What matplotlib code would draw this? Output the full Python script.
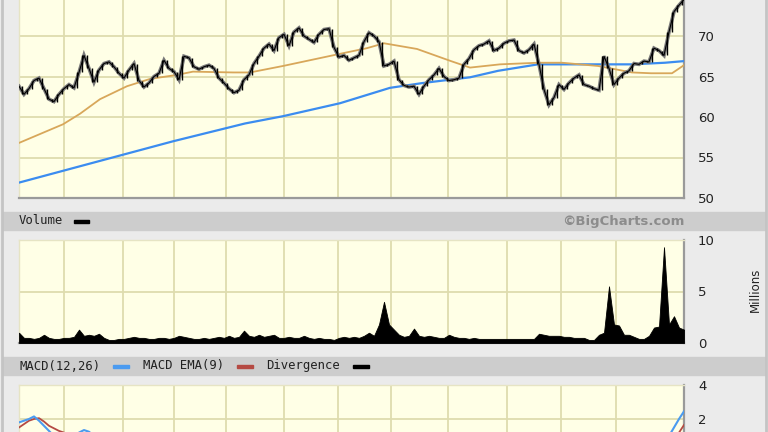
import matplotlib
matplotlib.use("Agg")
import matplotlib.pyplot as plt
from matplotlib.patches import Rectangle
from matplotlib.lines import Line2D
import numpy as np

# ---------------- data ----------------
close = [63.8, 62.8, 63.5, 64.5, 64.8, 63.5, 62.2, 61.9, 62.8, 63.5,
         64.0, 63.6, 65.5, 67.6, 66.0, 64.3, 65.8, 66.6, 66.8, 66.2,
         65.4, 64.8, 65.8, 66.6, 64.5, 63.7, 64.2, 65.0, 65.4, 67.0,
         66.0, 65.6, 64.6, 67.5, 67.3, 66.2, 65.9, 66.2, 66.4, 66.0,
         64.8, 64.2, 63.5, 63.0, 63.3, 64.6, 65.2, 66.6, 67.5, 68.5,
         69.0, 68.2, 69.8, 70.2, 68.8, 70.5, 71.0, 70.0, 69.6, 69.2,
         70.2, 70.8, 70.9, 68.6, 67.4, 67.6, 67.0, 67.3, 67.6, 69.3,
         70.4, 70.0, 69.3, 66.3, 66.5, 66.9, 64.6, 63.9, 63.7, 63.8,
         62.8, 63.8, 64.6, 65.2, 66.0, 65.0, 64.5, 64.6, 64.8, 66.5,
         67.2, 68.3, 68.8, 69.0, 69.4, 68.2, 68.5, 69.1, 69.4, 69.5,
         68.2, 67.9, 68.3, 69.0, 66.5, 63.4, 61.5, 62.4, 64.0, 63.4,
         64.2, 64.8, 65.2, 64.0, 63.8, 63.5, 63.3, 67.5, 66.0, 64.0,
         64.8, 65.4, 65.7, 66.6, 66.5, 66.9, 66.8, 68.5, 68.2, 67.6,
         70.5, 73.0, 73.8, 74.5]

volume = [1.0, 0.5, 0.5, 0.4, 0.5, 0.8, 0.5, 0.4, 0.4, 0.5,
          0.5, 0.6, 1.3, 0.7, 0.8, 0.7, 0.9, 0.5, 0.3, 0.3,
          0.4, 0.4, 0.5, 0.6, 0.5, 0.5, 0.4, 0.4, 0.5, 0.5,
          0.4, 0.5, 0.7, 0.6, 0.5, 0.4, 0.4, 0.5, 0.4, 0.5,
          0.6, 0.5, 0.7, 0.5, 0.6, 1.2, 0.7, 0.6, 0.8, 0.6,
          0.7, 0.8, 0.5, 0.5, 0.6, 0.5, 0.5, 0.7, 0.5, 0.4,
          0.5, 0.4, 0.4, 0.3, 0.5, 0.6, 0.5, 0.6, 0.5, 0.7,
          1.0, 0.7, 1.8, 4.0, 1.8, 1.3, 0.8, 0.6, 0.7, 1.4,
          0.7, 0.6, 0.7, 0.6, 0.5, 0.5, 0.8, 0.6, 0.5, 0.5,
          0.4, 0.5, 0.4, 0.4, 0.4, 0.4, 0.4, 0.4, 0.4, 0.4,
          0.4, 0.4, 0.4, 0.4, 0.9, 0.8, 0.7, 0.7, 0.7, 0.6,
          0.6, 0.5, 0.5, 0.5, 0.3, 0.3, 0.8, 1.0, 5.5, 1.8,
          1.7, 0.8, 0.8, 0.6, 0.4, 0.4, 0.7, 1.5, 1.6, 9.3,
          1.8, 2.6, 1.5, 1.3]

ma50_idx = [0, 8.8, 12.2, 16.2, 21.6, 26.2, 31.6, 34.8, 42.8, 46.2, 52.8,
            64.2, 69.6, 73.0, 79.6, 86.4, 90.2, 96.2, 103.8, 108.6, 115.8,
            119.2, 122.6, 126.4, 130.6, 133.0]
ma50_val = [56.8, 59.1, 60.4, 62.2, 63.8, 64.7, 65.2, 65.6, 65.5, 65.5, 66.3,
            67.8, 68.5, 69.1, 68.4, 66.9, 66.1, 66.5, 66.7, 66.7, 66.3,
            65.9, 65.5, 65.4, 65.4, 66.4]

ma200_idx = [0, 30.8, 45.2, 52.8, 64.2, 74.2, 80.8, 90.2, 95.8, 103.8,
             115.8, 122.6, 129.2, 133.0]
ma200_val = [51.9, 57.0, 59.2, 60.1, 61.7, 63.6, 64.2, 64.9, 65.7, 66.5,
             66.5, 66.5, 66.7, 66.9]

macd_idx = [0, 1, 2, 3, 4, 5, 6, 7, 8, 11, 12, 13, 14, 15,
            129, 130, 131, 132, 133]
macd_val = [1.8, 1.9, 2.0, 2.15, 1.9, 1.6, 1.3, 1.0, 0.8, 1.0, 1.2, 1.35, 1.25, 1.0,
            0.6, 1.0, 1.5, 2.0, 2.45]
ema_idx = [0, 1, 2, 3, 4, 5, 6, 7, 8, 9, 10, 131, 132, 133]
ema_val = [1.5, 1.7, 1.9, 2.0, 2.05, 1.85, 1.6, 1.45, 1.3, 1.2, 1.0, 0.8, 1.2, 1.65]

month_grid = [9, 20.8, 31, 41.4, 53, 63.8, 74.4, 85.8, 97.6, 108.4, 119.4]
price_ticks = [50, 55, 60, 65, 70]
price_grid = [75]
vol_ticks = [0, 5, 10]
macd_ticks = [2, 4]
macd_grid = [-4, -2, 0]

# ---------------- style ----------------
W, H = 768, 432
BG = "#ebebeb"
PANEL = "#ffffe6"
GRID = "#dedcae"
BAND = "#cdcdcd"

fig = plt.figure(figsize=(W / 100, H / 100), dpi=100, facecolor=BG)

def rect(x0, top, x1, bottom):
    # pixel coordinates (top-origin) -> figure fraction
    return [x0 / W, (H - bottom) / H, (x1 - x0) / W, (bottom - top) / H]

def style_axes(ax, ylim, yticks, extra_grid=()):
    ax.set_facecolor(PANEL)
    ax.set_xlim(0, len(close) - 1)
    ax.set_ylim(*ylim)
    ax.set_xticks(month_grid)
    ax.set_xticklabels([])
    ax.set_yticks(yticks)
    ax.yaxis.tick_right()
    ax.tick_params(axis="both", length=0)
    ax.tick_params(axis="y", pad=10, labelsize=9.5, labelcolor="#222222")
    ax.grid(True, color=GRID, lw=1.3)
    for g in extra_grid:
        ax.axhline(g, color=GRID, lw=1.3, zorder=0.5)
    ax.set_axisbelow(True)
    for s in ["top", "left"]:
        ax.spines[s].set_color("#e6e4c4")
        ax.spines[s].set_linewidth(1)
    for s in ["bottom", "right"]:
        ax.spines[s].set_color("#9a9a9a")
        ax.spines[s].set_linewidth(1.6)

# background bands and frame
fig.patches.append(Rectangle((3 / W, (H - 230) / H), 762 / W, 18 / H,
                             transform=fig.transFigure, color=BAND, zorder=0))
fig.patches.append(Rectangle((3 / W, (H - 375) / H), 762 / W, 18 / H,
                             transform=fig.transFigure, color=BAND, zorder=0))
for xp in (1.5, 765.5):
    fig.lines.append(Line2D([xp / W, xp / W], [0, 1], transform=fig.transFigure,
                            color="#c4c4c4", lw=2))

idx = np.arange(len(close))

# price panel
axp = fig.add_axes(rect(19, -45, 684, 198))
style_axes(axp, (50, 80), price_ticks, price_grid)
axp.plot(ma200_idx, ma200_val, color="#3b8cf0", lw=1.6, zorder=3)
axp.plot(ma50_idx, ma50_val, color="#d8a75a", lw=1.3, zorder=3)
lo = np.minimum(close[:-1], close[1:])
hi = np.maximum(close[:-1], close[1:])
axp.plot(idx, close, color="#7a7a7a", lw=2.6, zorder=4, solid_joinstyle="miter")
axp.vlines(idx[1:] - 0.5, lo, hi, color="black", lw=1.0, zorder=5)
axp.plot(idx, close, color="black", lw=0.8, zorder=5)

# volume panel
axv = fig.add_axes(rect(19, 240, 684, 343))
style_axes(axv, (0, 10), vol_ticks)
axv.fill_between(idx, 0, volume, color="black", lw=0.6, zorder=3)
fig.text(755 / W, (H - 290) / H, "Millions", rotation=90, ha="center", va="center",
         fontsize=8.5, color="#222222", family="DejaVu Sans")

# MACD panel
axm = fig.add_axes(rect(19, 385, 684, 521))
style_axes(axm, (-4, 4), macd_ticks, macd_grid)
axm.plot(ema_idx, ema_val, color="#b54a43", lw=1.3, zorder=3)
axm.plot(macd_idx, macd_val, color="#4b9bf0", lw=1.5, zorder=4)

# header texts
mono = "DejaVu Sans Mono"
fig.text(19 / W, (H - 221) / H, "Volume", ha="left", va="center",
         fontsize=8.8, family=mono, color="#222222")
fig.patches.append(Rectangle((74 / W, (H - 223) / H), 15 / W, 3.5 / H,
                             transform=fig.transFigure, color="black"))
fig.text(684 / W, (H - 221) / H, "\u00a9BigCharts.com", ha="right", va="center",
         fontsize=9.5, fontweight="bold", color="#8c8c8c", family="DejaVu Sans")

fig.text(19 / W, (H - 366) / H, "MACD(12,26)", ha="left", va="center",
         fontsize=8.8, family=mono, color="#222222")
fig.patches.append(Rectangle((113 / W, (H - 368) / H), 16 / W, 3.5 / H,
                             transform=fig.transFigure, color="#4b9bf0"))
fig.text(143 / W, (H - 366) / H, "MACD EMA(9)", ha="left", va="center",
         fontsize=8.8, family=mono, color="#222222")
fig.patches.append(Rectangle((237 / W, (H - 368) / H), 16 / W, 3.5 / H,
                             transform=fig.transFigure, color="#b54a43"))
fig.text(266 / W, (H - 366) / H, "Divergence", ha="left", va="center",
         fontsize=8.8, family=mono, color="#222222")
fig.patches.append(Rectangle((353 / W, (H - 368) / H), 16 / W, 3.5 / H,
                             transform=fig.transFigure, color="black"))

fig.savefig("out.png", dpi=100, facecolor=BG)
